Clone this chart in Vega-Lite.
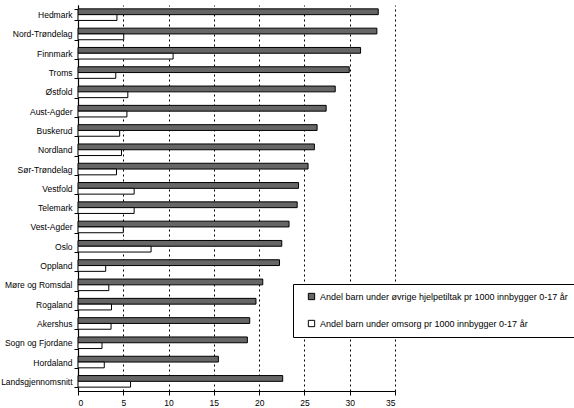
{
  "$schema": "https://vega.github.io/schema/vega-lite/v6.json",
  "width": 317,
  "height": 386,
  "padding": {"left": 0, "top": 1, "right": 0, "bottom": 0},
  "background": "white",
  "config": {
    "view": {"stroke": null},
    "font": "Liberation Sans",
    "axis": {"labelFont": "Liberation Sans", "labelColor": "black", "domainColor": "black", "tickColor": "black"}
  },
  "data": {
    "values": [
      {"fylke": "Hedmark", "serie": "hjelpetiltak", "verdi": 33.15},
      {"fylke": "Hedmark", "serie": "omsorg", "verdi": 4.3},
      {"fylke": "Nord-Trøndelag", "serie": "hjelpetiltak", "verdi": 33.0},
      {"fylke": "Nord-Trøndelag", "serie": "omsorg", "verdi": 5.05},
      {"fylke": "Finnmark", "serie": "hjelpetiltak", "verdi": 31.2},
      {"fylke": "Finnmark", "serie": "omsorg", "verdi": 10.5},
      {"fylke": "Troms", "serie": "hjelpetiltak", "verdi": 29.95},
      {"fylke": "Troms", "serie": "omsorg", "verdi": 4.17},
      {"fylke": "Østfold", "serie": "hjelpetiltak", "verdi": 28.4},
      {"fylke": "Østfold", "serie": "omsorg", "verdi": 5.5},
      {"fylke": "Aust-Agder", "serie": "hjelpetiltak", "verdi": 27.4},
      {"fylke": "Aust-Agder", "serie": "omsorg", "verdi": 5.4},
      {"fylke": "Buskerud", "serie": "hjelpetiltak", "verdi": 26.4},
      {"fylke": "Buskerud", "serie": "omsorg", "verdi": 4.6},
      {"fylke": "Nordland", "serie": "hjelpetiltak", "verdi": 26.1},
      {"fylke": "Nordland", "serie": "omsorg", "verdi": 4.8},
      {"fylke": "Sør-Trøndelag", "serie": "hjelpetiltak", "verdi": 25.4},
      {"fylke": "Sør-Trøndelag", "serie": "omsorg", "verdi": 4.25},
      {"fylke": "Vestfold", "serie": "hjelpetiltak", "verdi": 24.35},
      {"fylke": "Vestfold", "serie": "omsorg", "verdi": 6.2},
      {"fylke": "Telemark", "serie": "hjelpetiltak", "verdi": 24.2},
      {"fylke": "Telemark", "serie": "omsorg", "verdi": 6.2},
      {"fylke": "Vest-Agder", "serie": "hjelpetiltak", "verdi": 23.3},
      {"fylke": "Vest-Agder", "serie": "omsorg", "verdi": 5.0},
      {"fylke": "Oslo", "serie": "hjelpetiltak", "verdi": 22.5},
      {"fylke": "Oslo", "serie": "omsorg", "verdi": 8.07},
      {"fylke": "Oppland", "serie": "hjelpetiltak", "verdi": 22.25},
      {"fylke": "Oppland", "serie": "omsorg", "verdi": 3.06},
      {"fylke": "Møre og Romsdal", "serie": "hjelpetiltak", "verdi": 20.4},
      {"fylke": "Møre og Romsdal", "serie": "omsorg", "verdi": 3.4},
      {"fylke": "Rogaland", "serie": "hjelpetiltak", "verdi": 19.65},
      {"fylke": "Rogaland", "serie": "omsorg", "verdi": 3.7},
      {"fylke": "Akershus", "serie": "hjelpetiltak", "verdi": 18.96},
      {"fylke": "Akershus", "serie": "omsorg", "verdi": 3.65},
      {"fylke": "Sogn og Fjordane", "serie": "hjelpetiltak", "verdi": 18.7},
      {"fylke": "Sogn og Fjordane", "serie": "omsorg", "verdi": 2.65},
      {"fylke": "Hordaland", "serie": "hjelpetiltak", "verdi": 15.5},
      {"fylke": "Hordaland", "serie": "omsorg", "verdi": 2.9},
      {"fylke": "Landsgjennomsnitt", "serie": "hjelpetiltak", "verdi": 22.6},
      {"fylke": "Landsgjennomsnitt", "serie": "omsorg", "verdi": 5.8}
    ]
  },
  "mark": {"type": "bar", "stroke": "black", "strokeWidth": 1},
  "encoding": {
    "y": {
      "field": "fylke",
      "type": "nominal",
      "sort": null,
      "scale": {"paddingInner": 0.4, "paddingOuter": 0.2},
      "axis": {
        "title": null,
        "tickBand": "extent",
        "tickSize": 4,
        "labelFontSize": 8.5,
        "labelPadding": 2,
        "domainWidth": 1.2
      }
    },
    "yOffset": {
      "field": "serie",
      "type": "nominal",
      "sort": ["hjelpetiltak", "omsorg"],
      "scale": {"paddingInner": 0, "paddingOuter": 0}
    },
    "x": {
      "field": "verdi",
      "type": "quantitative",
      "scale": {"domain": [0, 35], "nice": false},
      "axis": {
        "title": null,
        "values": [0, 5, 10, 15, 20, 25, 30, 35],
        "tickSize": 4,
        "labelFontSize": 8.5,
        "labelPadding": 3,
        "grid": true,
        "gridColor": "black",
        "gridDash": [2, 3],
        "gridWidth": 1,
        "gridOpacity": 1,
        "domainWidth": 1.2
      }
    },
    "fill": {
      "field": "serie",
      "type": "nominal",
      "scale": {
        "domain": ["hjelpetiltak", "omsorg"],
        "range": ["#666666", "white"]
      },
      "legend": {
        "orient": "none",
        "legendX": 215,
        "legendY": 279,
        "title": null,
        "direction": "vertical",
        "fillColor": "white",
        "strokeColor": "black",
        "padding": 8,
        "symbolOffset": 6,
        "rowPadding": 16,
        "symbolType": "square",
        "symbolSize": 40,
        "symbolStrokeColor": "black",
        "symbolStrokeWidth": 1,
        "labelFontSize": 9,
        "labelLimit": 400,
        "labelExpr": "datum.value == 'hjelpetiltak' ? 'Andel barn under øvrige hjelpetiltak pr 1000 innbygger 0-17 år' : 'Andel barn under omsorg pr 1000 innbygger 0-17 år'"
      }
    }
  }
}
